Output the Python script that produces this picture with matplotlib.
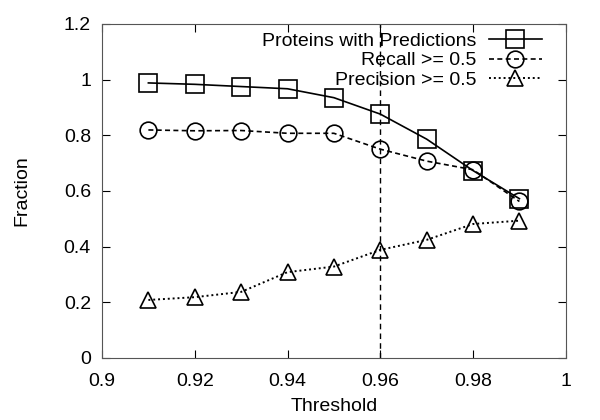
import matplotlib.pyplot as plt

plt.rcParams['font.family'] = ['Liberation Sans', 'DejaVu Sans']

thresholds = [0.91, 0.92, 0.93, 0.94, 0.95, 0.96, 0.97, 0.98, 0.99]
proteins = [0.988, 0.983, 0.975, 0.967, 0.935, 0.876, 0.786, 0.673, 0.572]
recall = [0.819, 0.816, 0.817, 0.807, 0.807, 0.750, 0.707, 0.676, 0.562]
precision = [0.208, 0.218, 0.237, 0.308, 0.328, 0.388, 0.424, 0.481, 0.493]

x_ticks = [0.9, 0.92, 0.94, 0.96, 0.98, 1.0]
x_labels = ['0.9', '0.92', '0.94', '0.96', '0.98', '1']
y_ticks = [0, 0.2, 0.4, 0.6, 0.8, 1.0, 1.2]
y_labels = ['0', '0.2', '0.4', '0.6', '0.8', '1', '1.2']
cutoff = 0.96

fig = plt.figure(figsize=(6, 4.2), dpi=100)
ax = fig.add_axes([0.17, 0.148, 0.773, 0.795])

ax.axvline(cutoff, color='black', linestyle=(0, (4, 3)), linewidth=1)

ax.plot(thresholds, proteins, color='black', linestyle='-', linewidth=1.2,
        marker='s', markersize=13, markerfacecolor='none', markeredgewidth=1.2,
        label='Proteins with Predictions')
ax.plot(thresholds, recall, color='black', linestyle=(0, (3, 2)), linewidth=1.2,
        marker='o', markersize=12, markerfacecolor='none', markeredgewidth=1.2,
        label='Recall >= 0.5')
ax.plot(thresholds, precision, color='black', linestyle=(0, (1, 1.5)), linewidth=1.4,
        marker='^', markersize=12, markerfacecolor='none', markeredgewidth=1.2,
        label='Precision >= 0.5')

ax.set_xlim(0.9, 1.0)
ax.set_ylim(0, 1.2)
ax.set_xticks(x_ticks)
ax.set_xticklabels(x_labels)
ax.set_yticks(y_ticks)
ax.set_yticklabels(y_labels)
ax.tick_params(direction='in', top=True, right=True, length=6, labelsize=14)
ax.tick_params(axis='x', pad=11)
ax.tick_params(axis='y', pad=8)
for s in ax.spines.values():
    s.set_color('#555555')

ax.set_xlabel('Threshold', fontsize=14, labelpad=6)
ax.set_ylabel('Fraction', fontsize=14, labelpad=24)

ax.legend(loc='upper right', bbox_to_anchor=(0.948, 0.975), frameon=False,
          markerfirst=False, handlelength=2.7, fontsize=14,
          labelspacing=0.1, handletextpad=0.67, borderpad=0, borderaxespad=0)

fig.savefig('out.png')
